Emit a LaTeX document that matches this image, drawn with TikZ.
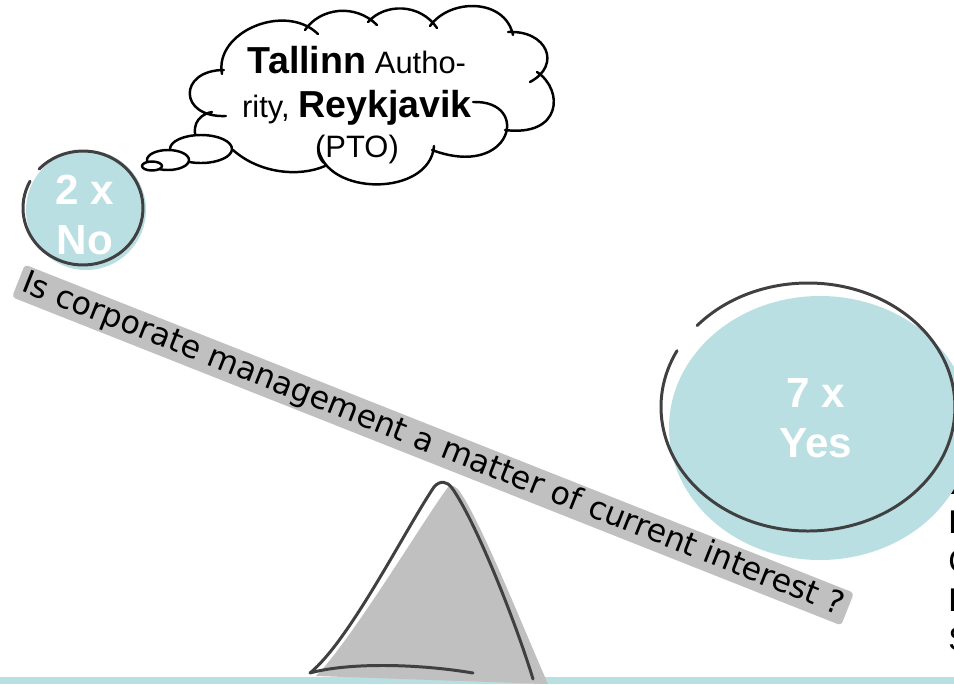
\documentclass[tikz,border=0pt]{standalone}
\usepackage{fontspec}
\setmainfont{Liberation Sans}
\newfontfamily\plankfont{DejaVu Sans}
\definecolor{seablue}{RGB}{186,223,227}
\definecolor{plankgray}{RGB}{192,192,192}
\definecolor{rimgray}{RGB}{64,64,64}
\begin{document}
\begin{tikzpicture}[x=0.02cm, y=-0.02cm, line join=round, line cap=round,
	rim/.style={draw=rimgray, line width=1.7pt},
	puff/.style={draw=black, line width=1.4pt},
	tally/.style={text=white, align=center, inner sep=0pt, font=\fontsize{24}{28.6}\selectfont\bfseries}]
	\useasboundingbox (0,0) rectangle (954,684);
	% Centres
	\coordinate (N) at (86,210);
	\coordinate (Y) at (820,428);
	% List at the right edge (partly hidden)
	\node[anchor=north west, align=left, inner sep=0pt, font=\fontsize{18.7}{22.1}\selectfont] (list) at (948,472) {\textbf{P}\\F\\C\\H\\S};
	% Ground strip
	\fill[seablue] (0,677) rectangle (954,684);
	% Small ball
	\fill[seablue] (N) circle (60);
	\draw[rim] (83,208) ++(223:60 and 57) arc[start angle=223, end angle=568, x radius=60, y radius=57];
	\node[tally] (no) at (85,215) {2 x\\No};
	% Big ball
	\fill[seablue] (Y) ellipse [x radius=151, y radius=132];
	\draw[rim] (808,407) ++(221:147 and 124) arc[start angle=221, end angle=567, x radius=147, y radius=124];
	\node[tally] (yes) at (816,418) {7 x\\Yes};
	% Plank
	\node[fill=plankgray, rotate=-21.6, rounded corners=2pt, inner sep=0pt,
		minimum width=17.84cm, minimum height=0.7cm,
		font=\plankfont\fontsize{18}{20}\selectfont] (plank) at (433,445)
		{Is corporate management a matter of current interest ?};
	% Fulcrum
	\fill[plankgray] (449,486) .. controls (433,505) and (352,640) .. (316,676) -- (548,684)
		.. controls (520,620) and (480,520) .. (460,492) .. controls (456,486) and (452,485) .. (449,486) -- cycle;
	\draw[rim] (533,679) .. controls (515,620) and (475,520) .. (452,488)
		.. controls (447,481) and (440,480) .. (434,487)
		.. controls (405,530) and (350,640) .. (310,673)
		.. controls (350,662) and (420,664) .. (473,673);
	% Thought cloud
	\draw[puff]
		(222,74) .. controls (214,32) and (285,2) .. (318,34)
		(305,30) .. controls (320,8) and (355,3) .. (377,25)
		(368,22) .. controls (385,3) and (420,3) .. (437,28)
		(430,26) .. controls (450,-2) and (505,-2) .. (513,35)
		(508,32) .. controls (547,30) and (562,65) .. (530,82)
		(537,72) .. controls (564,90) and (562,137) .. (505,130)
		(473,102) .. controls (532,100) and (512,180) .. (432,150)
		(434,146) .. controls (430,197) and (325,197) .. (318,147)
		(233,150) .. controls (260,174) and (300,177) .. (325,166)
		(212,112) .. controls (195,115) and (192,130) .. (197,140)
		(224,70) .. controls (178,70) and (178,118) .. (226,116);
	\filldraw[puff, fill=white] (201,149) ellipse [x radius=31, y radius=14];
	\filldraw[puff, fill=white] (168,160) ellipse [x radius=21, y radius=10];
	\filldraw[puff, fill=white] (152,166) ellipse [x radius=10, y radius=4.5];
	\node[anchor=north, align=center, inner sep=0pt, font=\fontsize{17.6}{25}\selectfont] (who) at (357,46)
		{{\fontsize{21.4}{25}\selectfont\bfseries Tallinn} Autho-\\rity, {\fontsize{21.4}{25}\selectfont\bfseries Reykjavik}\\[-2.3pt](PTO)};
\end{tikzpicture}
\end{document}
